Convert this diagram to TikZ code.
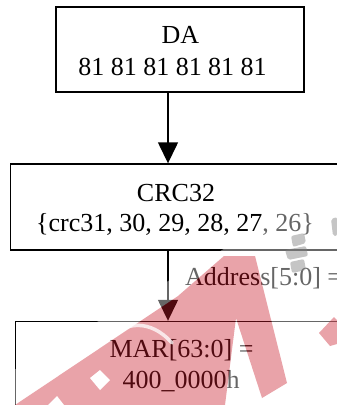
\documentclass[tikz,border=0pt]{standalone}
\usepackage{fontspec}
\setmainfont{Liberation Serif}
\usetikzlibrary{arrows.meta}
\definecolor{wmred}{RGB}{200,25,40}
\begin{document}
\begin{tikzpicture}[x=1pt,y=-1pt,
  box/.style={draw, line width=1.4pt, inner sep=0pt},
  txt/.style={anchor=base, inner sep=0pt, font=\fontsize{26}{30}\selectfont},
  flow/.style={line width=1.4pt, -{Triangle[width=20pt,length=21pt]}},
  wmgray/.style={fill=gray, opacity=0.45, rounded corners=2pt}]
\useasboundingbox (0,0) rectangle (337,405);

% boxes
\node[box, minimum width=248pt, minimum height=85pt] (da) at (180,49.5) {};
\node[box, minimum width=340pt, minimum height=86pt] (crc) at (180.5,207) {};
\node[box, minimum width=335pt, minimum height=99pt] (mar) at (183,371) {};

% box texts
\node[txt] (daname) at (180.5,43) {DA};
\node[txt] (dabytes) at (172.5,75) {81 81 81 81 81 81};
\node[txt] (crcname) at (176,201) {CRC32};
\node[txt] (crcbits) at (175,231) {\{crc31, 30, 29, 28, 27, 26\}};
\node[txt] (marname) at (181.5,357) {MAR[63:0] =};
\node[txt] (marval) at (181,388) {400\_0000h};

% connectors
\draw[flow] ([xshift=-12pt]da.south) -- ([xshift=-12pt]da.south |- crc.north);
\draw[flow] ([xshift=-12.5pt]crc.south) -- ([xshift=-12.5pt]crc.south |- mar.north);
\node[txt, anchor=base west] (addr) at (185,285) {Address[5:0] =};

% watermark: light veil outside the red mark (hole cut by opposite winding)
\begin{scope}
  \clip (0,0) -- (337,0) -- (337,405) -- (0,405) -- cycle
    (15,405) -- (225,405) -- (236,318) -- (262,398) -- (287,383)
    -- (255,256) -- (224,256) -- (178,296) -- cycle;
  \fill[white, opacity=0.4] (0,378) -- (97,322) -- (222,250) -- (262,227)
    -- (262,195) -- (337,195) -- (337,405) -- (0,405) -- cycle;
\end{scope}
% watermark: grey marks
\fill[wmgray] (291,236) -- (304,233) -- (306,243) -- (293,247) -- cycle;
\fill[wmgray] (285,250) -- (306,246) -- (308,256) -- (288,260) -- cycle;
\fill[wmgray] (290,262) -- (304,259) -- (306,270) -- (292,273) -- cycle;
\fill[wmgray] (331,219) -- (337,217) -- (337,236) -- (333,236) -- cycle;
% watermark: red mark
\fill[wmred, opacity=0.4] (15,405) -- (178,296) -- (224,256) -- (255,256)
  -- (287,383) -- (262,398) -- (236,318) -- (225,405) -- cycle;
\fill[wmred, opacity=0.4] (319,333) -- (334,317) -- (337,320) -- (337,344) -- (330,346) -- cycle;
% watermark: light cut-outs in the mark
\fill[white] (90,378) -- (100,370) -- (110,380) -- (100,390) -- cycle;
\fill[white] (48,405) -- (57,396) -- (64,405) -- cycle;
\draw[white, line width=3.5pt, opacity=0.75, line cap=round]
  (112,337) .. controls (124,323) and (150,318) .. (172,343);
\end{tikzpicture}
\end{document}
